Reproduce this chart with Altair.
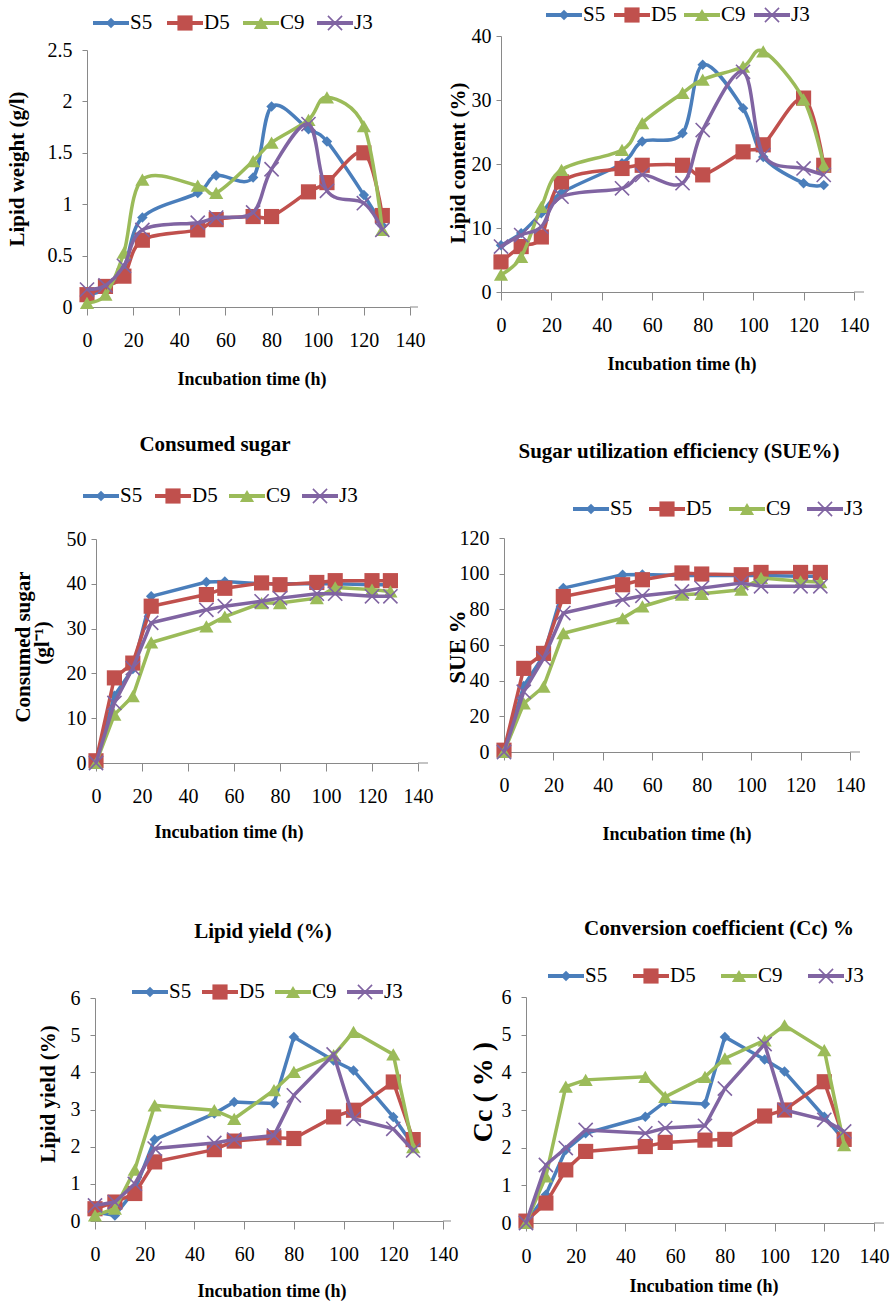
import altair as alt
import pandas as pd

# ---------------- data ----------------
hours = [0, 8, 16, 24, 48, 56, 72, 80, 96, 104, 120, 128]
series_names = ["S5", "D5", "C9", "J3"]
series_colors = ["#4A7EBB", "#C0504D", "#9BBB59", "#8064A2"]

lipid_weight_S5 = [0.12, 0.18, 0.38, 0.87, 1.11, 1.28, 1.26, 1.95, 1.73, 1.61, 1.09, 0.79]
lipid_weight_D5 = [0.12, 0.20, 0.30, 0.65, 0.75, 0.85, 0.88, 0.88, 1.12, 1.21, 1.50, 0.89]
lipid_weight_C9 = [0.04, 0.12, 0.53, 1.24, 1.18, 1.11, 1.42, 1.60, 1.82, 2.04, 1.76, 0.75]
lipid_weight_J3 = [0.17, 0.21, 0.40, 0.75, 0.82, 0.87, 0.92, 1.34, 1.78, 1.13, 1.01, 0.75]

lipid_content_S5 = [7.3, 9.2, 12.3, 15.5, 20.1, 23.5, 24.8, 35.5, 28.7, 21.1, 17.0, 16.7]
lipid_content_D5 = [4.7, 7.1, 8.6, 17.2, 19.3, 19.8, 19.8, 18.3, 21.9, 23.0, 30.3, 19.8]
lipid_content_C9 = [2.7, 5.5, 13.3, 19.1, 22.2, 26.4, 31.1, 33.2, 35.2, 37.6, 30.1, 19.8]
lipid_content_J3 = [7.1, 8.9, 10.2, 14.9, 16.2, 18.3, 17.0, 25.3, 34.4, 21.4, 19.3, 18.3]

sugar_S5 = [0.0, 15.0, 21.0, 37.2, 40.4, 40.5, 40.0, 40.0, 40.0, 40.0, 39.8, 39.8]
sugar_D5 = [0.5, 19.0, 22.3, 35.0, 37.6, 39.0, 40.2, 39.8, 40.3, 40.7, 40.7, 40.7]
sugar_C9 = [0.0, 10.8, 14.9, 26.9, 30.5, 32.7, 35.7, 35.7, 36.8, 39.2, 38.7, 38.3]
sugar_J3 = [0.0, 13.4, 21.2, 31.3, 34.2, 35.0, 36.1, 36.8, 37.8, 37.8, 37.2, 37.2]

sue_S5 = [0.0, 37.0, 54.0, 91.9, 99.4, 99.5, 99.0, 99.0, 99.0, 99.0, 98.5, 98.5]
sue_D5 = [1.0, 46.9, 55.3, 87.2, 93.8, 96.6, 100.4, 99.8, 99.4, 100.7, 100.7, 100.7]
sue_C9 = [0.0, 27.2, 36.6, 66.6, 75.0, 81.6, 88.2, 88.7, 91.0, 97.6, 95.7, 95.3]
sue_J3 = [0.0, 33.8, 52.5, 77.9, 85.4, 87.6, 90.0, 91.9, 94.7, 92.9, 92.9, 92.9]

yield_S5 = [0.24, 0.15, 0.83, 2.19, 2.89, 3.20, 3.16, 4.95, 4.32, 4.05, 2.80, 2.04]
yield_D5 = [0.33, 0.51, 0.74, 1.59, 1.92, 2.15, 2.24, 2.22, 2.80, 2.98, 3.74, 2.19]
yield_C9 = [0.15, 0.33, 1.38, 3.11, 2.98, 2.75, 3.52, 4.01, 4.46, 5.09, 4.48, 1.99]
yield_J3 = [0.42, 0.51, 1.00, 1.95, 2.10, 2.19, 2.30, 3.38, 4.48, 2.75, 2.48, 1.90]

cc_S5 = [0.00, 0.75, 1.94, 2.38, 2.82, 3.22, 3.16, 4.94, 4.34, 4.02, 2.82, 2.20]
cc_D5 = [0.05, 0.53, 1.41, 1.90, 2.03, 2.14, 2.20, 2.22, 2.84, 3.00, 3.75, 2.22]
cc_C9 = [0.00, 1.24, 3.62, 3.80, 3.88, 3.35, 3.88, 4.37, 4.85, 5.25, 4.59, 2.07]
cc_J3 = [0.00, 1.54, 1.99, 2.47, 2.38, 2.52, 2.58, 3.57, 4.75, 3.00, 2.74, 2.43]

x_ticks = [0, 20, 40, 60, 80, 100, 120, 140]

# ---------------- styling ----------------
SERIF = "Liberation Serif"
AXIS_GRAY = "#898989"
marker_styles = [
    dict(shape="diamond", filled=True, size=110),
    dict(shape="square", filled=True, size=230),
    dict(shape="triangle-up", filled=True, size=200),
    dict(shape="M-1,-1L1,1M-1,1L1,-1", filled=False, size=200, strokeWidth=1.6),
]

panels = [
    dict(series=[lipid_weight_S5, lipid_weight_D5, lipid_weight_C9, lipid_weight_J3],
         ymax=2.5, yticks=[0, 0.5, 1, 1.5, 2, 2.5], interp="cardinal",
         origin=(96, 36), rect=(87, 410, 50, 307), axis_end=418, ylab_pad=10,
         legend=(23, [93, 167, 243, 317]),
         title=None,
         ytitle=[("Lipid weight (g/l)", 18, 169, 21)],
         xtitle=(252, 380)),
    dict(series=[lipid_content_S5, lipid_content_D5, lipid_content_C9, lipid_content_J3],
         ymax=40, yticks=[0, 10, 20, 30, 40], interp="cardinal",
         origin=(526, 36), rect=(501, 854, 36, 292), axis_end=864, ylab_pad=5,
         legend=(15, [546, 614, 684, 754]),
         title=None,
         ytitle=[("Lipid content (%)", 459, 163, 21)],
         xtitle=(682, 365)),
    dict(series=[sugar_S5, sugar_D5, sugar_C9, sugar_J3],
         ymax=50, yticks=[0, 10, 20, 30, 40, 50], interp="linear",
         origin=(96, 307), rect=(96, 418, 539, 763), axis_end=428, ylab_pad=5,
         legend=(496, [83, 155, 229, 302]),
         title=("Consumed sugar", 215, 445),
         ytitle=[("Consumed sugar", 24, 647, 21), ("(gl\u207b\u00b9)", 43, 643, 21)],
         xtitle=(229, 833)),
    dict(series=[sue_S5, sue_D5, sue_C9, sue_J3],
         ymax=120, yticks=[0, 20, 40, 60, 80, 100, 120], interp="linear",
         origin=(526, 307), rect=(504, 850, 538, 752), axis_end=860, ylab_pad=10,
         legend=(509, [573, 649, 729, 807]),
         title=("Sugar utilization efficiency (SUE%)", 679, 452),
         ytitle=[("SUE %", 458, 647, 23)],
         xtitle=(677, 835)),
    dict(series=[yield_S5, yield_D5, yield_C9, yield_J3],
         ymax=6, yticks=[0, 1, 2, 3, 4, 5, 6], interp="linear",
         origin=(96, 763), rect=(95, 443, 998, 1221), axis_end=451, ylab_pad=10,
         legend=(992, [132, 202, 275, 347]),
         title=("Lipid yield (%)", 263, 932),
         ytitle=[("Lipid yield (%)", 49, 1094, 21)],
         xtitle=(272, 1292)),
    dict(series=[cc_S5, cc_D5, cc_C9, cc_J3],
         ymax=6, yticks=[0, 1, 2, 3, 4, 5, 6], interp="linear",
         origin=(526, 763), rect=(526, 874, 997, 1223), axis_end=884, ylab_pad=10,
         legend=(976, [548, 633, 721, 808]),
         title=("Conversion coefficient (Cc) %", 719, 929),
         ytitle=[("Cc ( % )", 484, 1092, 28)],
         xtitle=(704, 1287)),
]

one_row = pd.DataFrame({"k": [0]})


def text_layer(txt, x, y, size, bold=True, angle=0, align="center"):
    kw = dict(text=txt, font=SERIF, fontSize=size, color="black",
              align=align, baseline="middle")
    if bold:
        kw["fontWeight"] = "bold"
    if angle:
        kw["angle"] = angle
    return alt.Chart(one_row).mark_text(**kw).encode(x=alt.value(x), y=alt.value(y))


def build_panel(idx, cfg):
    gl, gt = cfg["origin"]
    L, R, T, B = cfg["rect"]
    width = R - gl
    height = B - gt
    xs = alt.Scale(domain=[0, 140], range=[L - gl, R - gl], nice=False, zero=False)
    ys = alt.Scale(domain=[0, cfg["ymax"]], range=[B - gt, T - gt], nice=False, zero=False)
    x_axis = alt.Axis(values=x_ticks, title=None, grid=False, tickSize=8, labelPadding=15,
                      domainColor=AXIS_GRAY, tickColor=AXIS_GRAY, labelFont=SERIF,
                      labelFontSize=20, labelColor="black", labelFlush=False,
                      labelExpr="'' + datum.value")
    y_axis = alt.Axis(values=cfg["yticks"], title=None, grid=False, tickSize=5,
                      labelPadding=cfg["ylab_pad"], offset=gl - L, domainColor=AXIS_GRAY,
                      tickColor=AXIS_GRAY, labelFont=SERIF, labelFontSize=20,
                      labelColor="black", labelFlush=False,
                      labelExpr="'' + datum.value")
    layers = []
    # small extension of the horizontal axis line past the last tick
    layers.append(alt.Chart(one_row).mark_rule(color=AXIS_GRAY, strokeWidth=1).encode(
        x=alt.value(R - gl), x2=alt.value(cfg["axis_end"] - gl), y=alt.value(B - gt)))
    for i, name in enumerate(series_names):
        d = pd.DataFrame({"t": hours, "v": cfg["series"][i]})
        base = alt.Chart(d).encode(
            x=alt.X("t:Q", scale=xs, axis=x_axis),
            y=alt.Y("v:Q", scale=ys, axis=y_axis),
        )
        layers.append(base.mark_line(color=series_colors[i], strokeWidth=3.5,
                                     interpolate=cfg["interp"]))
        layers.append(base.mark_point(color=series_colors[i], opacity=1, **marker_styles[i]))

    # legend (line + marker + label)
    ly, starts = cfg["legend"]
    for i, name in enumerate(series_names):
        x0 = starts[i] - gl
        y0 = ly - gt
        layers.append(alt.Chart(one_row).mark_rule(color=series_colors[i], strokeWidth=4).encode(
            x=alt.value(x0), x2=alt.value(x0 + 36), y=alt.value(y0)))
        layers.append(alt.Chart(one_row).mark_point(color=series_colors[i], opacity=1,
                                                   **marker_styles[i]).encode(
            x=alt.value(x0 + 18), y=alt.value(y0)))
        layers.append(text_layer(name, x0 + 37, y0, 21, bold=False, align="left"))

    # titles
    if cfg["title"]:
        t, tx, ty = cfg["title"]
        layers.append(text_layer(t, tx - gl, ty - gt, 21))
    for t, tx, ty, sz in cfg["ytitle"]:
        layers.append(text_layer(t, tx - gl, ty - gt, sz, angle=270))
    xt, yt = cfg["xtitle"]
    layers.append(text_layer("Incubation time (h)", xt - gl, yt - gt, 18))

    # invisible anchors fixing the page corners
    if idx == 0:
        layers.append(alt.Chart(one_row).mark_rect(opacity=0).encode(
            x=alt.value(-gl), x2=alt.value(-gl + 1), y=alt.value(-gt), y2=alt.value(-gt + 1)))
    if idx == 5:
        layers.append(alt.Chart(one_row).mark_rect(opacity=0).encode(
            x=alt.value(892 - gl - 1), x2=alt.value(892 - gl),
            y=alt.value(1308 - gt - 1), y2=alt.value(1308 - gt)))

    return alt.layer(*layers).properties(width=width, height=height)


charts = [build_panel(i, p) for i, p in enumerate(panels)]

chart = alt.concat(
    *charts, columns=2, spacing={"row": 0, "column": 83}, bounds="flush", align="each"
).properties(padding=0).configure_view(strokeWidth=0)

chart.save("out.html", embed_options={"renderer": "svg", "actions": False})
